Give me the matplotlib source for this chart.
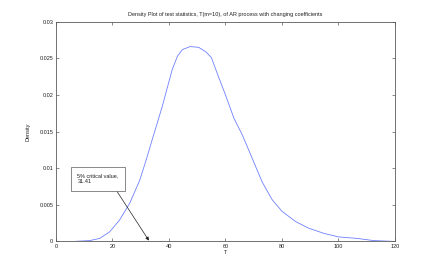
import numpy as np
import matplotlib
matplotlib.use('Agg')
import matplotlib.pyplot as plt

# density curve
T = [7.0, 12.0, 15.5, 19.0, 22.5, 26.1, 29.6, 32.0, 34.0, 37.6, 41.1, 43.0,
     44.8, 47.5, 50.5, 53.0, 55.0, 57.5, 60.0, 63.0, 66.0, 69.5, 73.0, 76.5,
     80.0, 84.8, 89.4, 94.7, 100.0, 106.5, 112.4, 119.0]
density = [0.0, 0.0001, 0.0004, 0.0013, 0.0029, 0.0052, 0.0083, 0.0112, 0.0138,
           0.0184, 0.0234, 0.0253, 0.0262, 0.0266, 0.0265, 0.0259, 0.0251,
           0.0225, 0.0200, 0.0168, 0.0145, 0.0113, 0.0081, 0.0057, 0.0041,
           0.0027, 0.0018, 0.0011, 0.0006, 0.0004, 0.0001, 0.0]

xticks = [0, 20, 40, 60, 80, 100, 120]
yticks = [0, 0.005, 0.01, 0.015, 0.02, 0.025, 0.03]
ytick_labels = ['0', '0.005', '0.01', '0.015', '0.02', '0.025', '0.03']

plt.rcParams['font.family'] = ['Liberation Sans', 'DejaVu Sans']
fs = 4.0
grey = '#5a5a5a'

fig = plt.figure(figsize=(4.36, 2.73), dpi=100)
ax = fig.add_axes([0.1284, 0.1161, 0.7775, 0.8044])

ax.plot(T, density, color='#6f80ff', lw=0.6)

ax.set_xlim(0, 120)
ax.set_ylim(0, 0.03)
ax.set_xticks(xticks)
ax.set_xticklabels([str(t) for t in xticks])
ax.set_yticks(yticks)
ax.set_yticklabels(ytick_labels)
ax.tick_params(direction='in', length=2, width=0.5, colors=grey, labelsize=fs,
               top=True, right=True, pad=2)
ax.tick_params(labelcolor='#222222')
for s in ax.spines.values():
    s.set_color(grey)
    s.set_linewidth(0.6)

ax.set_title('Density Plot of test statistics, T(m=10), of AR process with changing coefficients',
             fontsize=fs, pad=4, color='#222222')
ax.set_xlabel('T', fontsize=fs, labelpad=1, color='#222222')
ax.set_ylabel('Density', fontsize=fs, labelpad=6, color='#222222')

ax.annotate('5% critical value,\n31.41', xy=(32.9, 0.0001), xytext=(7.6, 0.0085),
            fontsize=fs, ha='left', va='center', color='#222222',
            bbox=dict(boxstyle='square,pad=1.2', fc='white', ec=grey, lw=0.5),
            arrowprops=dict(arrowstyle='-|>', color='#222222', lw=0.5,
                            mutation_scale=5, shrinkA=0, shrinkB=0,
                            relpos=(0.85, 0.0)))

fig.savefig('out.png', dpi=100)
